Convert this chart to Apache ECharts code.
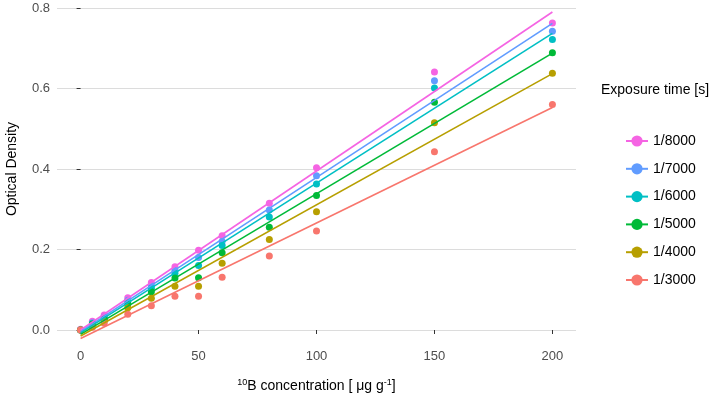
<!DOCTYPE html>
<html>
<head>
<meta charset="utf-8">
<script src="https://cdn.jsdelivr.net/npm/echarts@6/dist/echarts.min.js"></script>
<style>
  html, body { margin: 0; padding: 0; background: #fff; }
  #container { width: 726px; height: 397px; }
</style>
</head>
<body>
<div id="container"></div>
<script>
// boron concentration (x)
const conc = [0, 5, 10, 20, 30, 40, 50, 60, 80, 100, 150, 200]
const exposures = ['1/8000', '1/7000', '1/6000', '1/5000', '1/4000', '1/3000']
const colors = ['#F564E3', '#619CFF', '#00BFC4', '#00BA38', '#B79F00', '#F8766D']

// optical density per exposure time
const od8000 = [0.002, 0.022, 0.037, 0.080, 0.118, 0.157, 0.198, 0.234, 0.315, 0.403, 0.641, 0.763]
const od7000 = [0.000, 0.018, 0.032, 0.074, 0.110, 0.148, 0.180, 0.220, 0.298, 0.383, 0.619, 0.742]
const od6000 = [0.000, 0.016, 0.030, 0.070, 0.104, 0.141, 0.160, 0.210, 0.281, 0.363, 0.601, 0.722]
const od5000 = [0.000, 0.014, 0.027, 0.064, 0.095, 0.129, 0.130, 0.192, 0.255, 0.334, 0.566, 0.689]
const od4000 = [0.000, 0.010, 0.022, 0.055, 0.079, 0.109, 0.109, 0.166, 0.225, 0.294, 0.515, 0.638]
const od3000 = [0.000, 0.007, 0.017, 0.039, 0.060, 0.084, 0.084, 0.131, 0.184, 0.246, 0.443, 0.560]
const odAll = [od8000, od7000, od6000, od5000, od4000, od3000]

// fitted line values at x = 0 and x = 200
const fitStart = [0.000, -0.004, -0.007, -0.011, -0.015, -0.021]
const fitEnd = [0.790, 0.762, 0.737, 0.688, 0.637, 0.553]
const fitX = [0, 200]

const xTicks = [0, 50, 100, 150, 200]

const series = []
// fit lines first so the legend shows a line icon
exposures.forEach((name, i) => {
  series.push({
    name: name,
    type: 'line',
    symbol: 'none',
    clip: false,
    silent: true,
    lineStyle: { color: colors[i], width: 1.6 },
    itemStyle: { color: colors[i] },
    data: [[fitX[0], fitStart[i]], [fitX[1], fitEnd[i]]],
    z: 3
  })
})
exposures.forEach((name, i) => {
  series.push({
    name: name,
    type: 'scatter',
    symbol: 'circle',
    symbolSize: 7,
    clip: false,
    itemStyle: { color: colors[i], opacity: 1 },
    data: conc.map((c, j) => [c, odAll[i][j]]),
    z: 2
  })
})

const option = {
  animation: false,
  backgroundColor: '#fff',
  textStyle: { fontFamily: 'Liberation Sans' },
  grid: { left: 57, right: 150, top: 8, bottom: 67, containLabel: false, outerBoundsMode: 'none' },
  xAxis: {
    type: 'value',
    min: -10,
    max: 210,
    offset: 15,
    axisLine: { show: false },
    axisTick: { show: true, customValues: xTicks, length: 4, lineStyle: { color: '#333' } },
    axisLabel: { customValues: xTicks, color: '#4d4d4d', fontSize: 13, margin: 5 },
    splitLine: { show: false },
    name: '{sup|10}B concentration [ μg g{sup|-1}]',
    nameLocation: 'middle',
    nameGap: 33,
    nameTextStyle: {
      color: '#000', fontSize: 14,
      rich: { sup: { fontSize: 9, verticalAlign: 'top', padding: [0, 0, 8, 0], color: '#000' } }
    }
  },
  yAxis: {
    type: 'value',
    min: 0,
    max: 0.8,
    interval: 0.2,
    axisLine: { show: false },
    axisTick: { show: true, length: 4, lineStyle: { color: '#333' } },
    axisLabel: { color: '#4d4d4d', fontSize: 13, margin: 7, formatter: v => v.toFixed(1) },
    splitLine: { lineStyle: { color: '#dcdcdc', width: 1.2 } },
    name: 'Optical Density',
    nameLocation: 'middle',
    nameGap: 38,
    nameTextStyle: { color: '#000', fontSize: 14 }
  },
  legend: {
    data: exposures,
    orient: 'vertical',
    left: 620,
    top: 129,
    itemWidth: 22,
    itemHeight: 14,
    itemGap: 13.8,
    textStyle: { color: '#000', fontSize: 14, fontFamily: 'Liberation Sans' }
  },
  graphic: [{
    type: 'text',
    left: 601,
    top: 83,
    style: { text: 'Exposure time [s]', fontSize: 14, fill: '#000', fontFamily: 'Liberation Sans' }
  }],
  series: series
}

const myChart = echarts.init(document.getElementById('container'))
myChart.setOption(option)
</script>
</body>
</html>
